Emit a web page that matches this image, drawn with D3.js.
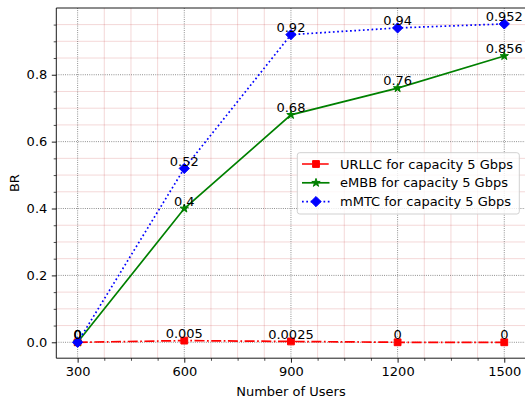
<!DOCTYPE html>
<html><head><meta charset="utf-8">
<script src="https://cdn.jsdelivr.net/npm/d3@7"></script>
<style>
html,body{margin:0;padding:0;background:#fff;}
svg{display:block;font-family:"DejaVu Sans",sans-serif;}
</style></head>
<body>
<script>
const users = [300, 600, 900, 1200, 1500];
const urllc = [0, 0.005, 0.0025, 0, 0];
const urllcLabels = ["0", "0.005", "0.0025", "0", "0"];
const embb = [0, 0.4, 0.68, 0.76, 0.856];
const embbLabels = ["0", "0.4", "0.68", "0.76", "0.856"];
const mmtc = [0, 0.52, 0.92, 0.94, 0.952];
const mmtcLabels = ["0", "0.52", "0.92", "0.94", "0.952"];
const seriesNames = ["URLLC for capacity 5 Gbps", "eMBB for capacity 5 Gbps", "mMTC for capacity 5 Gbps"];
const xTicks = [300, 600, 900, 1200, 1500];
const yTicks = [0, 0.2, 0.4, 0.6, 0.8];
const xTickLabels = ["300", "600", "900", "1200", "1500"];
const yTickLabels = ["0.0", "0.2", "0.4", "0.6", "0.8"];

const W = 525, H = 405;
const FS = 13;
const svg = d3.select("body").append("svg").attr("width", W).attr("height", H);

const x = d3.scaleLinear().domain([240, 1560]).range([56.3, 525.6]);
const y = d3.scaleLinear().domain([-0.0476, 0.9996]).range([358.2, 8]);
const [x0, x1] = x.range();
const [yb, yt] = y.range();

const clipId = "plotclip";
svg.append("clipPath").attr("id", clipId).append("rect")
  .attr("x", x0).attr("y", yt).attr("width", x1 - x0).attr("height", yb - yt);

// minor grid
const xMinor = d3.range(300, 1560, 75).filter(v => v % 300 !== 0);
const yMinor = d3.range(1, 20).map(i => i * 0.05).filter(v => Math.abs(v * 5 - Math.round(v * 5)) > 1e-6);
const gMinor = svg.append("g").attr("stroke", "rgb(200,60,60)").attr("stroke-opacity", 0.25).attr("stroke-width", 0.8);
gMinor.selectAll("line.xm").data(xMinor).join("line")
  .attr("x1", d => x(d)).attr("x2", d => x(d)).attr("y1", yt).attr("y2", yb);
gMinor.selectAll("line.ym").data(yMinor).join("line")
  .attr("y1", d => y(d)).attr("y2", d => y(d)).attr("x1", x0).attr("x2", x1);

// major grid
const gMajor = svg.append("g").attr("stroke", "#666").attr("stroke-width", 0.8).attr("stroke-dasharray", "0.9,1.3");
gMajor.selectAll("line.xM").data(xTicks).join("line")
  .attr("x1", d => x(d)).attr("x2", d => x(d)).attr("y1", yt).attr("y2", yb);
gMajor.selectAll("line.yM").data(yTicks).join("line")
  .attr("y1", d => y(d)).attr("y2", d => y(d)).attr("x1", x0).attr("x2", x1);

// axes
const TK = 4.5, TKm = 2.6, PAD = 4.5;
const xAxis = d3.axisBottom(x).tickValues(xTicks).tickSize(TK).tickPadding(PAD)
  .tickFormat((d, i) => xTickLabels[i]);
const gx = svg.append("g").attr("transform", `translate(0,${yb})`).call(xAxis);
gx.select(".domain").remove();
gx.selectAll("line").attr("stroke", "#000").attr("stroke-width", 0.9);
gx.selectAll("text").attr("font-size", FS).attr("fill", "#000").attr("font-family", "DejaVu Sans");

const xAxisMinor = d3.axisBottom(x).tickValues(xMinor).tickSize(TKm).tickFormat("");
const gxm = svg.append("g").attr("transform", `translate(0,${yb})`).call(xAxisMinor);
gxm.select(".domain").remove();
gxm.selectAll("line").attr("stroke", "#000").attr("stroke-width", 0.7);

const yAxis = d3.axisLeft(y).tickValues(yTicks).tickSize(TK).tickPadding(PAD)
  .tickFormat((d, i) => yTickLabels[i]);
const gy = svg.append("g").attr("transform", `translate(${x0},0)`).call(yAxis);
gy.select(".domain").remove();
gy.selectAll("line").attr("stroke", "#000").attr("stroke-width", 0.9);
gy.selectAll("text").attr("font-size", FS).attr("fill", "#000").attr("font-family", "DejaVu Sans");

const yAxisMinor = d3.axisLeft(y).tickValues(yMinor).tickSize(TKm).tickFormat("");
const gym = svg.append("g").attr("transform", `translate(${x0},0)`).call(yAxisMinor);
gym.select(".domain").remove();
gym.selectAll("line").attr("stroke", "#000").attr("stroke-width", 0.7);

// series
const lw = 1.7;
const series = [
  {name: seriesNames[0], vals: urllc, labels: urllcLabels, color: "#ff0000", dash: "10,2.5,1.7,2.5", marker: "square"},
  {name: seriesNames[1], vals: embb, labels: embbLabels, color: "#008000", dash: null, marker: "star"},
  {name: seriesNames[2], vals: mmtc, labels: mmtcLabels, color: "#0000ff", dash: "1.7,2.6", marker: "diamond"}
];

function starPath(R) {
  const r = R * 0.381966;
  const pts = [];
  for (let i = 0; i < 10; i++) {
    const a = -Math.PI / 2 + i * Math.PI / 5;
    const rr = i % 2 === 0 ? R : r;
    pts.push([rr * Math.cos(a), rr * Math.sin(a)]);
  }
  return "M" + pts.map(p => p[0].toFixed(2) + "," + p[1].toFixed(2)).join("L") + "Z";
}
function markerPath(type) {
  if (type === "square") { const s = 3.4; return `M${-s},${-s}H${s}V${s}H${-s}Z`; }
  if (type === "diamond") { const s = 5.1; return `M0,${-s}L${s},0L0,${s}L${-s},0Z`; }
  return starPath(4.4);
}

const plot = svg.append("g").attr("clip-path", `url(#${clipId})`);
const line = d3.line().x(d => x(d[0])).y(d => y(d[1]));
series.forEach(s => {
  const pts = users.map((u, i) => [u, s.vals[i]]);
  const p = plot.append("path").datum(pts).attr("d", line)
    .attr("fill", "none").attr("stroke", s.color).attr("stroke-width", lw);
  if (s.dash) p.attr("stroke-dasharray", s.dash);
  plot.selectAll(null).data(pts).join("path")
    .attr("transform", d => `translate(${x(d[0])},${y(d[1])})`)
    .attr("d", markerPath(s.marker))
    .attr("fill", s.color).attr("stroke", s.color).attr("stroke-width", 1).attr("stroke-linejoin", "miter");
});

// annotations
series.forEach(s => {
  svg.append("g").selectAll("text").data(users.map((u, i) => [u, s.vals[i], s.labels[i]])).join("text")
    .attr("x", d => x(d[0])).attr("y", d => y(d[1]) - 2.8)
    .attr("text-anchor", "middle").attr("font-size", FS).attr("fill", "#000")
    .text(d => d[2]);
});

// spines (right one falls off canvas)
svg.append("g").attr("stroke", "#000").attr("stroke-width", 0.9).attr("fill", "none")
  .call(g => {
    g.append("line").attr("x1", x0).attr("x2", x0).attr("y1", yt).attr("y2", yb);
    g.append("line").attr("x1", x0).attr("x2", x1).attr("y1", yb).attr("y2", yb);
    g.append("line").attr("x1", x0).attr("x2", x1).attr("y1", yt).attr("y2", yt);
    g.append("line").attr("x1", x1).attr("x2", x1).attr("y1", yt).attr("y2", yb);
  });

// axis labels
svg.append("text").attr("x", (x0 + x1) / 2).attr("y", 395.5).attr("text-anchor", "middle")
  .attr("font-size", FS).attr("fill", "#000").text("Number of Users");
svg.append("text").attr("transform", `translate(18.5,${(yt + yb) / 2}) rotate(-90)`)
  .attr("text-anchor", "middle").attr("font-size", FS).attr("fill", "#000").text("BR");

// legend
const lg = svg.append("g");
lg.append("rect").attr("x", 297.3).attr("y", 152.7).attr("width", 222).attr("height", 61.3)
  .attr("rx", 2.5).attr("fill", "#fff").attr("fill-opacity", 0.8).attr("stroke", "#ccc").attr("stroke-width", 0.9);
const rowY = [164, 182.8, 201.6];
series.forEach((s, i) => {
  const yy = rowY[i];
  const l = lg.append("line").attr("x1", 302).attr("x2", 329.5).attr("y1", yy).attr("y2", yy)
    .attr("stroke", s.color).attr("stroke-width", lw);
  if (s.dash) l.attr("stroke-dasharray", s.dash);
  lg.append("path").attr("transform", `translate(316,${yy})`).attr("d", markerPath(s.marker))
    .attr("fill", s.color).attr("stroke", s.color).attr("stroke-width", 1);
  lg.append("text").attr("x", 340).attr("y", yy).attr("dy", "0.36em")
    .attr("font-size", FS).attr("fill", "#000").text(s.name);
});
</script>
</body></html>
